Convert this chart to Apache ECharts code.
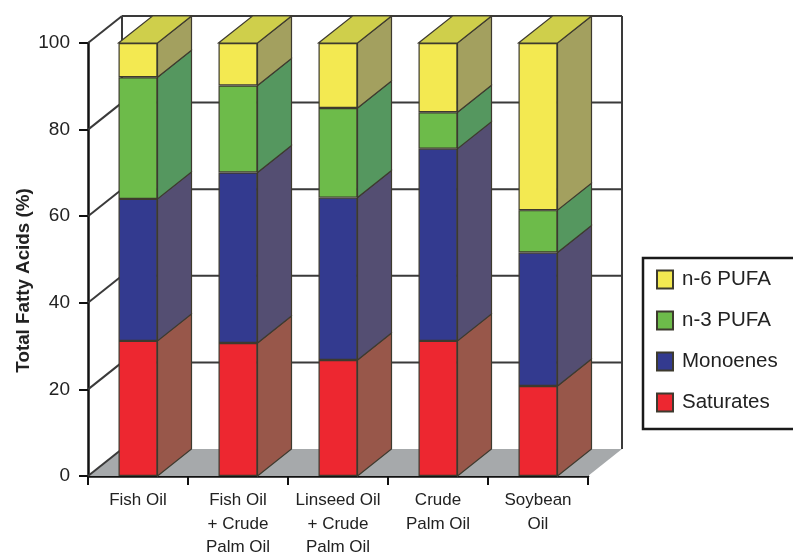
<!DOCTYPE html>
<html>
<head>
    <meta charset="utf-8">
    <script src="https://cdn.jsdelivr.net/npm/echarts@6/dist/echarts.min.js"></script>
    <title>Total fatty acids by diet</title>
    <style>
        html, body { margin: 0; padding: 0; background: #fff; overflow: hidden; }
        #main { width: 793px; height: 554px; }
    </style>
</head>

<body>
    <div id="main"></div>

    <script type="text/javascript">
        var categories = ['Fish Oil', 'Fish Oil\n+ Crude\nPalm Oil', 'Linseed Oil\n+ Crude\nPalm Oil', 'Crude\nPalm Oil', 'Soybean\nOil'];
        var saturates = [31.2, 30.7, 26.8, 31.2, 20.8];
        var monoenes = [32.8, 39.4, 37.5, 44.4, 30.8];
        var n3Pufa = [28.1, 20.1, 20.7, 8.4, 9.8];
        var n6Pufa = [7.9, 9.8, 15.0, 16.0, 38.6];
        var yTicks = [0, 20, 40, 60, 80, 100];

        // fake 3d: how far the back of the box sits from the front, in pixels
        var depthX = 34;
        var depthY = 27;
        var barShare = 0.39;
        var edge = '#3d3a2e';
        var wallLine = '#3a3a3a';
        var font = '"Liberation Sans", Arial, sans-serif';

        var myChart = echarts.init(document.getElementById('main'));

        function line(x1, y1, x2, y2) {
            return {
                type: 'line',
                shape: { x1: x1, y1: y1, x2: x2, y2: y2 },
                style: { stroke: wallLine, lineWidth: 2 }
            };
        }

        function poly(points, fill) {
            return {
                type: 'polygon',
                shape: { points: points },
                style: { fill: fill, stroke: edge, lineWidth: 1.2 }
            };
        }

        // back wall, side wall and floor, one data row per y tick
        function renderWall(params, api) {
            var box = params.coordSys;
            var p = api.coord([0, api.value(1)]);
            var left = box.x;
            var right = box.x + box.width;
            var items = [];
            if (api.value(1) === 0) {
                items.push({
                    type: 'polygon',
                    shape: { points: [[left, p[1]], [left + depthX, p[1] - depthY], [right + depthX, p[1] - depthY], [right, p[1]]] },
                    style: { fill: '#a6a9ab' }
                });
                items.push(line(left + depthX, box.y - depthY, left + depthX, p[1] - depthY));
                items.push(line(right + depthX, box.y - depthY, right + depthX, p[1] - depthY));
            } else {
                items.push(line(left + depthX, p[1] - depthY, right + depthX, p[1] - depthY));
            }
            items.push(line(left, p[1], left + depthX, p[1] - depthY));
            return { type: 'group', children: items };
        }

        // side of one bar segment, plus the lid when it is the top one
        function renderSide(sideColor, withTop) {
            return function (params, api) {
                var idx = api.value(0);
                var low = api.coord([idx, api.value(1)]);
                var high = api.coord([idx, api.value(2)]);
                var half = api.size([1, 0])[0] * barShare / 2;
                var x = low[0] + half;
                var items = [poly([[x, low[1]], [x + depthX, low[1] - depthY], [x + depthX, high[1] - depthY], [x, high[1]]], sideColor)];
                if (withTop) {
                    var xl = low[0] - half;
                    items.push(poly([[xl, high[1]], [x, high[1]], [x + depthX, high[1] - depthY], [xl + depthX, high[1] - depthY]], '#cfcf4b'));
                }
                return { type: 'group', children: items };
            };
        }

        function sideData(lower, upper) {
            return categories.map(function (c, i) {
                var base = 0;
                lower.forEach(function (arr) { base += arr[i]; });
                return [i, base, base + upper[i]];
            });
        }

        function barSeries(name, values, color) {
            return {
                name: name,
                type: 'bar',
                stack: 'total',
                barWidth: (barShare * 100) + '%',
                z: 5,
                itemStyle: { color: color, borderColor: edge, borderWidth: 1.2 },
                data: values
            };
        }

        function sideSeries(lower, upper, sideColor, withTop) {
            return {
                type: 'custom',
                z: 3,
                silent: true,
                renderItem: renderSide(sideColor, withTop),
                encode: { x: 0, y: [1, 2] },
                data: sideData(lower, upper)
            };
        }

        myChart.setOption({
            animation: false,
            grid: { left: 88, top: 43, width: 500, height: 433, outerBoundsMode: 'none' },
            legend: {
                orient: 'vertical',
                left: 643,
                top: 258,
                selectedMode: false,
                icon: 'rect',
                data: ['n-6 PUFA', 'n-3 PUFA', 'Monoenes', 'Saturates'],
                itemWidth: 16,
                itemHeight: 18,
                itemGap: 20,
                padding: [11, 40, 16, 13],
                borderColor: '#1a1a1a',
                borderWidth: 2.5,
                textStyle: { fontFamily: font, fontSize: 20.5, lineHeight: 18, color: '#222', padding: [0, 0, 0, 4] }
            },
            xAxis: {
                type: 'category',
                data: categories,
                axisLine: { lineStyle: { color: '#111', width: 2.5 } },
                axisTick: { show: true, length: 9, lineStyle: { color: '#111', width: 2 } },
                axisLabel: { interval: 0, margin: 13, fontFamily: font, fontSize: 17, lineHeight: 23.5, color: '#222' }
            },
            yAxis: {
                type: 'value',
                min: 0,
                max: 100,
                interval: 20,
                name: 'Total Fatty Acids (%)',
                nameLocation: 'middle',
                nameGap: 55,
                nameMoveOverlap: false,
                nameTextStyle: { fontFamily: font, fontSize: 18.8, fontWeight: 'bold', color: '#222', padding: [0, 42, 0, 0] },
                axisLine: { show: true, lineStyle: { color: '#111', width: 2.5 } },
                axisTick: { show: true, length: 9, lineStyle: { color: '#111', width: 2 } },
                axisLabel: { margin: 18, fontFamily: font, fontSize: 19, color: '#222' },
                splitLine: { show: false }
            },
            series: [
                {
                    type: 'custom',
                    z: 1,
                    silent: true,
                    renderItem: renderWall,
                    encode: { x: 0, y: 1 },
                    data: yTicks.map(function (t) { return [0, t]; })
                },
                sideSeries([], saturates, '#98574a', false),
                sideSeries([saturates], monoenes, '#544e72', false),
                sideSeries([saturates, monoenes], n3Pufa, '#55975f', false),
                sideSeries([saturates, monoenes, n3Pufa], n6Pufa, '#a3a05f', true),
                barSeries('Saturates', saturates, '#ed2730'),
                barSeries('Monoenes', monoenes, '#333a8f'),
                barSeries('n-3 PUFA', n3Pufa, '#6dbb4a'),
                barSeries('n-6 PUFA', n6Pufa, '#f3e951')
            ]
        });
    </script>
</body>

</html>
